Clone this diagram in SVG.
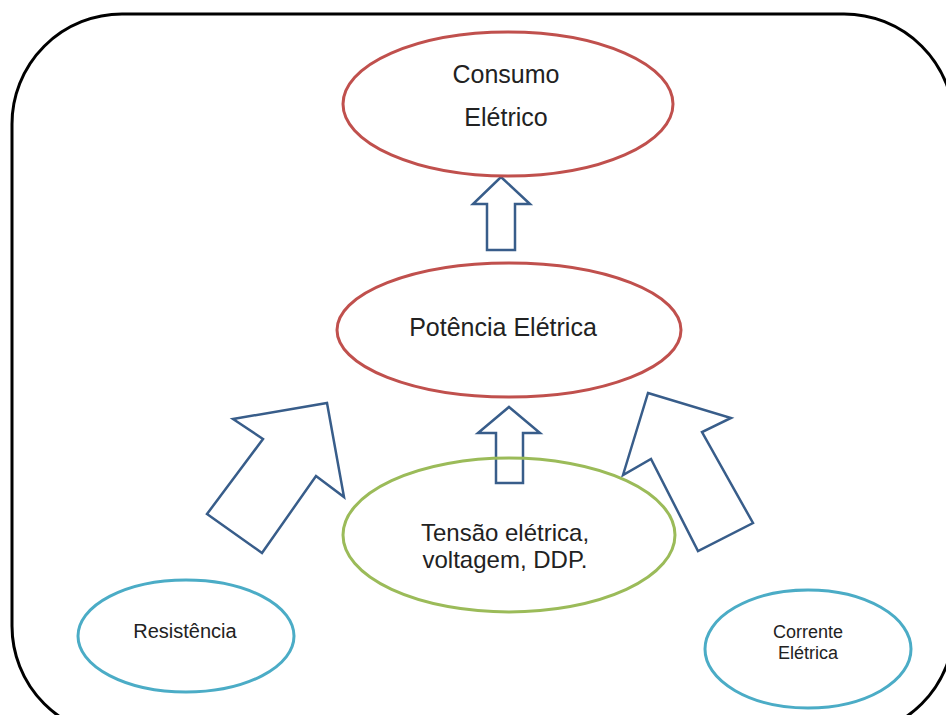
<svg xmlns="http://www.w3.org/2000/svg" width="946" height="715" viewBox="0 0 946 715">
<style>
.red{fill:none;stroke:#c0504d;stroke-width:3}
.green{fill:none;stroke:#9bbb59;stroke-width:3}
.teal{fill:none;stroke:#4bacc6;stroke-width:3}
.arr{fill:#fff;stroke:#385d8a;stroke-width:2.5;stroke-linejoin:miter}
text{font-family:"Liberation Sans",Arial,sans-serif;fill:#222;text-anchor:middle}
</style>
<rect x="0" y="0" width="946" height="715" fill="#fff"/>
<rect x="12" y="14" width="942" height="722" rx="110" ry="110" fill="none" stroke="#000" stroke-width="3"/>
<g id="connectors">
<polygon class="arr" points="501,177 530,204 515,204 515,250 487,250 487,204 473,204"/>
<polygon class="arr" points="509,407 540,433 523,433 523,483 496,483 496,433 478,433"/>
<polygon class="arr" points="233,419 327,403 344,497 316,476 262,553 207,514 263,439"/>
<polygon class="arr" points="648,393 731,418 702,432 753,523 698,551 651,459 623,475"/>
</g>
<g id="consumo">
<ellipse class="red" cx="508" cy="104" rx="165" ry="72"/>
<text x="506" y="83" font-size="25">Consumo</text>
<text x="506" y="126" font-size="25">Elétrico</text>
</g>
<g id="potencia">
<ellipse class="red" cx="509" cy="330" rx="172" ry="67"/>
<text x="503" y="336" font-size="25">Potência Elétrica</text>
</g>
<g id="tensao">
<ellipse class="green" cx="509" cy="535" rx="166" ry="77"/>
<text x="505" y="541" font-size="24">Tensão elétrica,</text>
<text x="505" y="568" font-size="24">voltagem, DDP.</text>
</g>
<g id="resistencia">
<ellipse class="teal" cx="186" cy="636" rx="108" ry="56"/>
<text x="185" y="638" font-size="20">Resistência</text>
</g>
<g id="corrente">
<ellipse class="teal" cx="808" cy="649" rx="103" ry="59"/>
<text x="808" y="638" font-size="18">Corrente</text>
<text x="808" y="659" font-size="18">Elétrica</text>
</g>
</svg>
